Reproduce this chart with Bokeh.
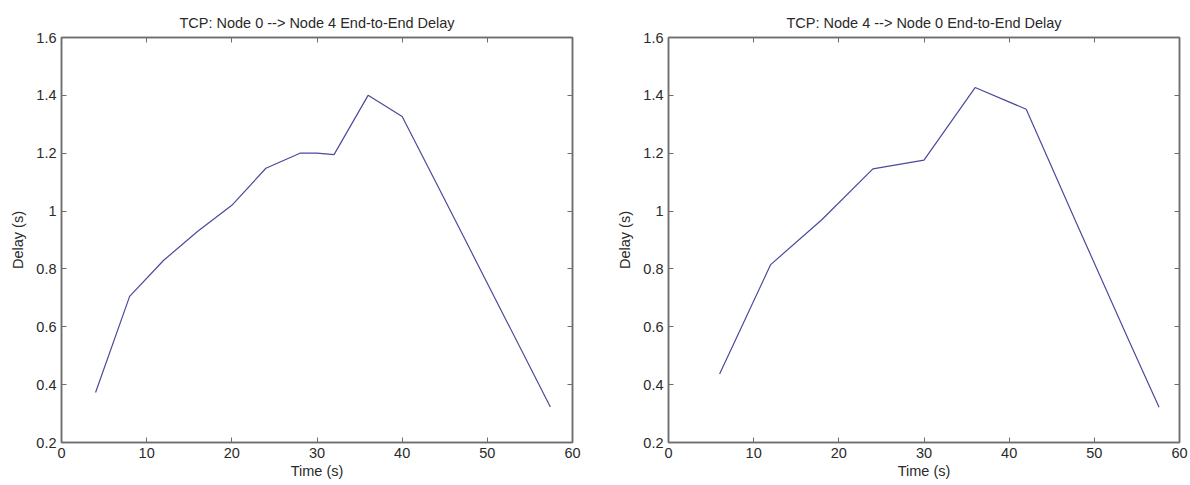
from bokeh.plotting import figure
from bokeh.models import Range1d, LinearAxis, FixedTicker, CustomJSTickFormatter, Title
from bokeh.layouts import row
from bokeh.embed import file_html
from bokeh.resources import INLINE

# Left chart: Node 0 --> Node 4
time_a = [4, 8, 12, 16, 20, 24, 28, 30, 32, 36, 40, 44, 48, 52, 56, 57.4]
delay_a = [0.373, 0.705, 0.83, 0.93, 1.02, 1.148, 1.2, 1.2, 1.195, 1.40, 1.327, 1.097, 0.866, 0.635, 0.404, 0.323]

# Right chart: Node 4 --> Node 0
time_b = [6, 12, 18, 24, 30, 36, 42, 48, 54, 57.6]
delay_b = [0.437, 0.815, 0.97, 1.146, 1.176, 1.427, 1.352, 0.952, 0.556, 0.322]

titles = ["TCP: Node 0 --> Node 4 End-to-End Delay", "TCP: Node 4 --> Node 0 End-to-End Delay"]
x_ticks = [0, 10, 20, 30, 40, 50, 60]
y_ticks = [0.2, 0.4, 0.6, 0.8, 1, 1.2, 1.4, 1.6]
x_label = "Time (s)"
y_label = "Delay (s)"

FONT = "Liberation Sans"
FS = "14.5px"
TXT = "#2a2a2a"
FRAME = "#6e6e6e"
LINE = "#4a4a9c"

fmt = CustomJSTickFormatter(code="return tick.toString();")


def style_axis(ax, labels=True):
    ax.major_tick_in = 5
    ax.major_tick_out = 0
    ax.minor_tick_line_color = None
    ax.major_tick_line_color = FRAME
    ax.major_tick_line_width = 1
    ax.axis_line_color = FRAME
    ax.axis_line_width = 1.5
    if labels:
        ax.major_label_text_font = FONT
        ax.major_label_text_font_size = FS
        ax.major_label_text_color = TXT
        ax.axis_label_text_font = FONT
        ax.axis_label_text_font_size = FS
        ax.axis_label_text_font_style = "normal"
        ax.axis_label_text_color = TXT
        ax.formatter = fmt
    else:
        ax.major_label_text_color = None
        ax.major_label_text_alpha = 0
        ax.major_label_text_font_size = "1px"
        ax.major_label_standoff = 0


def make(xs, ys, title, width, bl, br):
    p = figure(width=width, height=485, output_backend="svg", toolbar_location=None,
               x_range=Range1d(0, 60), y_range=Range1d(0.2, 1.6),
               min_border_left=bl, min_border_right=br, min_border_top=37, min_border_bottom=43,
               outline_line_color=FRAME, outline_line_width=1.5, background_fill_color="white")
    p.grid.visible = False
    p.xaxis.ticker = FixedTicker(ticks=x_ticks)
    p.yaxis.ticker = FixedTicker(ticks=y_ticks)
    p.xaxis.axis_label = x_label
    p.yaxis.axis_label = y_label
    style_axis(p.xaxis[0])
    style_axis(p.yaxis[0])
    p.xaxis.major_label_standoff = 5
    p.xaxis.axis_label_standoff = 2
    p.yaxis.major_label_standoff = 5
    p.yaxis.axis_label_standoff = 7
    top = LinearAxis(ticker=FixedTicker(ticks=x_ticks))
    right = LinearAxis(ticker=FixedTicker(ticks=y_ticks))
    style_axis(top, labels=False)
    style_axis(right, labels=False)
    p.add_layout(top, "above")
    p.add_layout(right, "right")
    t = Title(text=title, align="center", text_font=FONT, text_font_size=FS,
              text_font_style="normal", text_color=TXT, standoff=14)
    p.add_layout(t, "above")
    p.line(xs, ys, line_color=LINE, line_width=1.2)
    return p


p1 = make(time_a, delay_a, titles[0], 595, 61, 23)
p2 = make(time_b, delay_b, titles[1], 595, 73, 11)
p = row(p1, p2, spacing=0)

open("out.html", "w").write(file_html(p, INLINE))
